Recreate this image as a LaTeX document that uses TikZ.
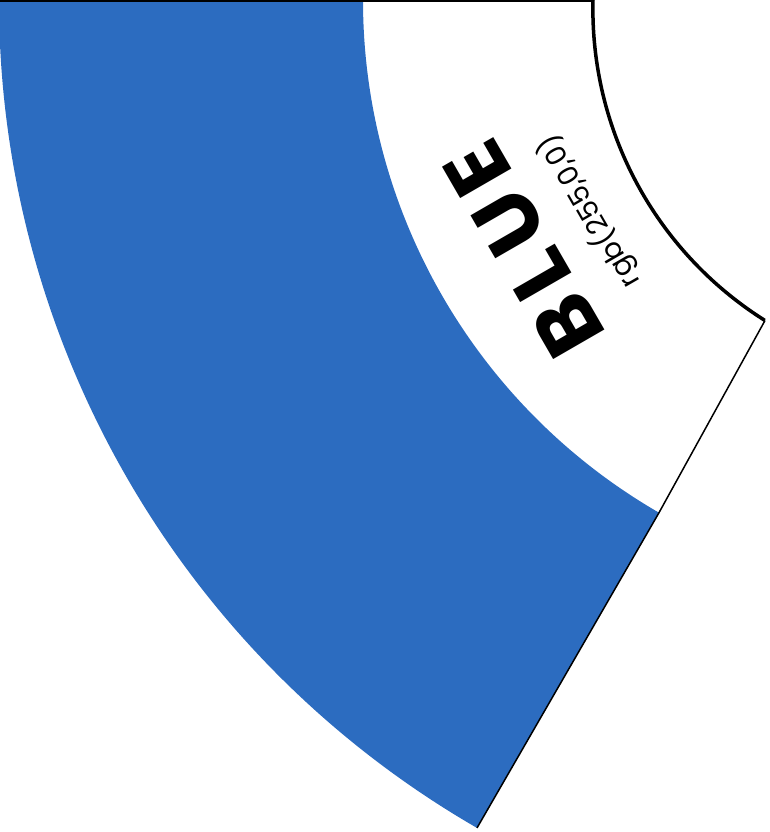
\documentclass[tikz,border=0pt]{standalone}
\usepackage{fontspec}
\newfontfamily\wheelfont{Poppins}
\definecolor{wheelblue}{RGB}{44,108,192}
\begin{document}
\begin{tikzpicture}[x=1cm,y=1cm]
\useasboundingbox (-19.10,-16.64) rectangle (-3.72,0);
\begin{scope}
\clip (-19.10,-16.64) rectangle (-3.72,0);
\fill[wheelblue] (180:19.12) arc[start angle=180, end angle=240, radius=19.12] -- (240:11.84) arc[start angle=240, end angle=180, radius=11.84] -- cycle;
\coordinate (rimtop) at (-7.24,0);
\coordinate (rimend) at (-3.80,-6.41);
\coordinate (bandend) at (240:11.84);
\draw[line width=0.1cm] (180:19.12) -- (rimtop);
\draw[line width=0.07cm] (rimtop) arc[start angle=178.6, end angle=237.8, radius=7.36];
\draw[line width=0.03cm] (rimend) -- (bandend) -- (240:19.12);
\end{scope}
\node[rotate=120, font=\wheelfont\bfseries\fontsize{48}{48}\selectfont\addfontfeature{LetterSpace=12}] (name) at (210:9.95) {BLUE};
\node[rotate=120, font=\wheelfont\fontsize{16}{16}\selectfont] (code) at (210:8.45) {rgb(255,0,0)};
\end{tikzpicture}
\end{document}
